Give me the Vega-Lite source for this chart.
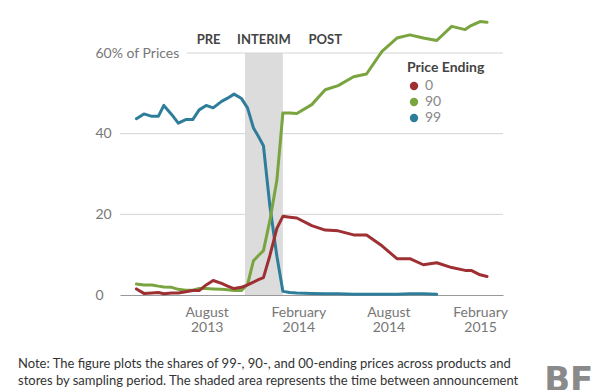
{
  "$schema": "https://vega.github.io/schema/vega-lite/v6.json",
  "width": 383,
  "height": 242,
  "autosize": "none",
  "padding": {"left": 120, "top": 53, "right": 97, "bottom": 95},
  "background": "white",
  "config": {"view": {"stroke": null}, "font": "Lato"},
  "datasets": {
    "shares": [
      {"date": "2013-03-13", "ending": "99", "share": 43.7}, {"date": "2013-03-13", "ending": "90", "share": 2.7}, {"date": "2013-03-13", "ending": "0", "share": 1.5},
      {"date": "2013-03-28", "ending": "99", "share": 44.9}, {"date": "2013-03-28", "ending": "90", "share": 2.5}, {"date": "2013-03-28", "ending": "0", "share": 0.4},
      {"date": "2013-04-13", "ending": "99", "share": 44.3}, {"date": "2013-04-13", "ending": "90", "share": 2.5}, {"date": "2013-04-13", "ending": "0", "share": 0.5},
      {"date": "2013-04-26", "ending": "99", "share": 44.3}, {"date": "2013-04-26", "ending": "90", "share": 2.2}, {"date": "2013-04-26", "ending": "0", "share": 0.6},
      {"date": "2013-05-07", "ending": "99", "share": 47.0}, {"date": "2013-05-07", "ending": "90", "share": 2.0}, {"date": "2013-05-07", "ending": "0", "share": 0.3},
      {"date": "2013-05-23", "ending": "99", "share": 44.7}, {"date": "2013-05-23", "ending": "90", "share": 1.9}, {"date": "2013-05-23", "ending": "0", "share": 0.5},
      {"date": "2013-06-05", "ending": "99", "share": 42.6}, {"date": "2013-06-05", "ending": "90", "share": 1.4}, {"date": "2013-06-05", "ending": "0", "share": 0.5},
      {"date": "2013-06-20", "ending": "99", "share": 43.5}, {"date": "2013-06-20", "ending": "90", "share": 1.2}, {"date": "2013-06-20", "ending": "0", "share": 0.8},
      {"date": "2013-07-04", "ending": "99", "share": 43.5}, {"date": "2013-07-04", "ending": "90", "share": 1.2}, {"date": "2013-07-04", "ending": "0", "share": 1.1},
      {"date": "2013-07-17", "ending": "99", "share": 45.9}, {"date": "2013-07-17", "ending": "90", "share": 1.6}, {"date": "2013-07-17", "ending": "0", "share": 1.1},
      {"date": "2013-07-31", "ending": "99", "share": 47.0}, {"date": "2013-07-31", "ending": "90", "share": 1.6}, {"date": "2013-07-31", "ending": "0", "share": 2.5},
      {"date": "2013-08-14", "ending": "99", "share": 46.4}, {"date": "2013-08-14", "ending": "90", "share": 1.5}, {"date": "2013-08-14", "ending": "0", "share": 3.6},
      {"date": "2013-08-31", "ending": "99", "share": 48.0}, {"date": "2013-08-31", "ending": "90", "share": 1.4}, {"date": "2013-08-31", "ending": "0", "share": 2.9},
      {"date": "2013-09-12", "ending": "99", "share": 48.8}, {"date": "2013-09-12", "ending": "90", "share": 1.3}, {"date": "2013-09-12", "ending": "0", "share": 2.2},
      {"date": "2013-09-25", "ending": "99", "share": 49.8}, {"date": "2013-09-25", "ending": "90", "share": 1.1}, {"date": "2013-09-25", "ending": "0", "share": 1.6},
      {"date": "2013-10-10", "ending": "99", "share": 48.7}, {"date": "2013-10-10", "ending": "90", "share": 1.1}, {"date": "2013-10-10", "ending": "0", "share": 1.9},
      {"date": "2013-10-22", "ending": "99", "share": 46.4}, {"date": "2013-10-22", "ending": "90", "share": 2.6}, {"date": "2013-10-22", "ending": "0", "share": 2.5},
      {"date": "2013-11-03", "ending": "99", "share": 41.4}, {"date": "2013-11-03", "ending": "90", "share": 8.5}, {"date": "2013-11-03", "ending": "0", "share": 3.2},
      {"date": "2013-11-13", "ending": "99", "share": 39.3}, {"date": "2013-11-13", "ending": "90", "share": 9.8}, {"date": "2013-11-13", "ending": "0", "share": 3.8},
      {"date": "2013-11-23", "ending": "99", "share": 37.0}, {"date": "2013-11-23", "ending": "90", "share": 11.0}, {"date": "2013-11-23", "ending": "0", "share": 4.3},
      {"date": "2013-12-06", "ending": "99", "share": 22.0}, {"date": "2013-12-06", "ending": "90", "share": 18.5}, {"date": "2013-12-06", "ending": "0", "share": 9.8},
      {"date": "2013-12-20", "ending": "99", "share": 9.6}, {"date": "2013-12-20", "ending": "90", "share": 28.5}, {"date": "2013-12-20", "ending": "0", "share": 16.5},
      {"date": "2014-01-01", "ending": "99", "share": 0.9}, {"date": "2014-01-01", "ending": "90", "share": 45.1}, {"date": "2014-01-01", "ending": "0", "share": 19.5},
      {"date": "2014-01-15", "ending": "99", "share": 0.6}, {"date": "2014-01-15", "ending": "90", "share": 45.1}, {"date": "2014-01-15", "ending": "0", "share": 19.3},
      {"date": "2014-01-29", "ending": "99", "share": 0.5}, {"date": "2014-01-29", "ending": "90", "share": 45.0}, {"date": "2014-01-29", "ending": "0", "share": 19.1},
      {"date": "2014-02-28", "ending": "99", "share": 0.4}, {"date": "2014-02-28", "ending": "90", "share": 47.2}, {"date": "2014-02-28", "ending": "0", "share": 17.2},
      {"date": "2014-03-27", "ending": "99", "share": 0.3}, {"date": "2014-03-27", "ending": "90", "share": 50.9}, {"date": "2014-03-27", "ending": "0", "share": 16.1},
      {"date": "2014-04-22", "ending": "99", "share": 0.3}, {"date": "2014-04-22", "ending": "90", "share": 51.9}, {"date": "2014-04-22", "ending": "0", "share": 15.9},
      {"date": "2014-05-23", "ending": "99", "share": 0.2}, {"date": "2014-05-23", "ending": "90", "share": 54.1}, {"date": "2014-05-23", "ending": "0", "share": 14.9},
      {"date": "2014-06-18", "ending": "99", "share": 0.2}, {"date": "2014-06-18", "ending": "90", "share": 54.8}, {"date": "2014-06-18", "ending": "0", "share": 14.9},
      {"date": "2014-07-19", "ending": "99", "share": 0.2}, {"date": "2014-07-19", "ending": "90", "share": 60.4}, {"date": "2014-07-19", "ending": "0", "share": 12.2},
      {"date": "2014-08-18", "ending": "99", "share": 0.2}, {"date": "2014-08-18", "ending": "90", "share": 63.7}, {"date": "2014-08-18", "ending": "0", "share": 9.0},
      {"date": "2014-09-13", "ending": "99", "share": 0.3}, {"date": "2014-09-13", "ending": "90", "share": 64.5}, {"date": "2014-09-13", "ending": "0", "share": 9.0},
      {"date": "2014-10-10", "ending": "99", "share": 0.3}, {"date": "2014-10-10", "ending": "90", "share": 63.7}, {"date": "2014-10-10", "ending": "0", "share": 7.5},
      {"date": "2014-11-06", "ending": "99", "share": 0.2}, {"date": "2014-11-06", "ending": "90", "share": 63.1}, {"date": "2014-11-06", "ending": "0", "share": 8.0},
      {"date": "2014-12-06", "ending": "90", "share": 66.6}, {"date": "2014-12-06", "ending": "0", "share": 6.8},
      {"date": "2015-01-02", "ending": "90", "share": 65.8}, {"date": "2015-01-02", "ending": "0", "share": 6.1},
      {"date": "2015-01-14", "ending": "90", "share": 66.8}, {"date": "2015-01-14", "ending": "0", "share": 6.1},
      {"date": "2015-02-01", "ending": "90", "share": 67.8}, {"date": "2015-02-01", "ending": "0", "share": 5.0},
      {"date": "2015-02-15", "ending": "90", "share": 67.6}, {"date": "2015-02-15", "ending": "0", "share": 4.6}
    ],
    "interim": [{"start": "2013-10-17", "end": "2014-01-01"}],
    "phases": [
      {"label": "PRE", "date": "2013-08-05"},
      {"label": "INTERIM", "date": "2013-11-24"},
      {"label": "POST", "date": "2014-03-27"}
    ]
  },
  "title": {
    "text": [
      "Note: The figure plots the shares of 99-, 90-, and 00-ending prices across products and",
      "stores by sampling period. The shaded area represents the time between announcement",
      "of the reform on October 17, 2013, and its enactment on January 1, 2014. S"
    ],
    "orient": "bottom",
    "anchor": "start",
    "frame": "group",
    "dx": -102,
    "dy": -58,
    "offset": 18,
    "fontSize": 13,
    "fontWeight": "normal",
    "font": "Lato",
    "color": "#333333",
    "lineHeight": 17
  },
  "layer": [
    {
      "data": {"values": [{}]},
      "mark": {"type": "rule", "color": "#d4d4d4", "strokeWidth": 1},
      "encoding": {"y": {"datum": 20, "type": "quantitative", "title": null}}
    },
    {
      "data": {"values": [{}]},
      "mark": {"type": "rule", "color": "#d4d4d4", "strokeWidth": 1},
      "encoding": {"y": {"datum": 40, "type": "quantitative", "title": null}}
    },
    {
      "data": {"name": "interim"},
      "mark": {"type": "rect", "color": "#dcdcdc"},
      "encoding": {
        "x": {"field": "start", "type": "temporal", "scale": {"type": "utc"}, "title": null},
        "x2": {"field": "end"},
        "y": {"datum": 0, "type": "quantitative", "title": null},
        "y2": {"datum": 60}
      }
    },
    {
      "data": {"values": [{}]},
      "mark": {"type": "rule", "color": "#d4d4d4", "strokeWidth": 1},
      "encoding": {
        "x": {"datum": {"year": 2013, "month": 6, "date": 22, "utc": true}, "type": "temporal", "title": null},
        "x2": {"datum": {"year": 2015, "month": 3, "date": 19, "utc": true}},
        "y": {"datum": 60, "type": "quantitative", "title": null}
      }
    },
    {
      "data": {"name": "shares"},
      "mark": {"type": "line", "strokeWidth": 3, "strokeJoin": "round", "strokeCap": "round"},
      "encoding": {
        "x": {
          "field": "date", "type": "temporal", "title": null,
          "scale": {"type": "utc", "domain": [{"year": 2013, "month": 2, "date": 8, "utc": true}, {"year": 2015, "month": 3, "date": 19, "utc": true}]},
          "axis": {
            "values": [
              {"year": 2013, "month": 8, "date": 1, "utc": true},
              {"year": 2014, "month": 2, "date": 1, "utc": true},
              {"year": 2014, "month": 8, "date": 1, "utc": true},
              {"year": 2015, "month": 2, "date": 1, "utc": true}
            ],
            "labelExpr": "[utcFormat(datum.value, '%B'), utcFormat(datum.value, '%Y')]",
            "grid": false, "ticks": false, "domain": true, "domainColor": "#999999", "domainWidth": 1,
            "labelFontSize": 14, "labelColor": "#777777", "labelPadding": 10, "labelLineHeight": 15,
            "labelFont": "Lato", "labelAlign": "center"
          }
        },
        "y": {
          "field": "share", "type": "quantitative", "title": null,
          "scale": {"domain": [0, 60], "nice": false},
          "axis": {
            "values": [0, 20, 40, 60],
            "domain": false, "ticks": false, "tickSize": 0, "grid": false,
            "labelAlign": "left", "labelPadding": 25, "labelBaseline": "middle",
            "labelFontSize": 14, "labelColor": "#777777", "labelFont": "Lato",
            "labelExpr": "datum.value == 60 ? '60% of Prices' : datum.label"
          }
        },
        "color": {
          "field": "ending", "type": "nominal",
          "scale": {"domain": ["0", "90", "99"], "range": ["#9e3033", "#7aa43f", "#2e7e9b"]},
          "legend": {
            "title": "Price Ending", "orient": "none", "legendX": 287, "legendY": 8,
            "symbolType": "circle", "symbolSize": 70, "symbolStrokeWidth": 0,
            "titleFontSize": 14, "titleFontWeight": "bold", "titleColor": "#444444", "titleFont": "Lato",
            "labelFontSize": 14, "labelColor": "#888888", "labelFont": "Lato",
            "rowPadding": 2, "labelOffset": 4, "titlePadding": 4,
            "encode": {"symbols": {"update": {"fill": {"scale": "color", "field": "value"}, "fillOpacity": {"value": 1}}}}
          }
        }
      }
    },
    {
      "data": {"name": "phases"},
      "mark": {"type": "text", "fontWeight": "bold", "fontSize": 13, "color": "#444444", "align": "center", "baseline": "middle", "font": "Lato"},
      "encoding": {
        "x": {"field": "date", "type": "temporal", "title": null},
        "y": {"datum": 63.2, "type": "quantitative", "title": null},
        "text": {"field": "label"}
      }
    },
    {
      "data": {"values": [{}]},
      "mark": {"type": "text", "fontWeight": "bold", "fontSize": 34, "color": "#8a8a8a", "align": "center", "baseline": "top", "font": "DejaVu Sans"},
      "encoding": {
        "x": {"datum": {"year": 2015, "month": 7, "date": 29, "utc": true}, "type": "temporal", "title": null},
        "y": {"datum": -17, "type": "quantitative", "title": null},
        "text": {"value": "BF"}
      }
    }
  ]
}
